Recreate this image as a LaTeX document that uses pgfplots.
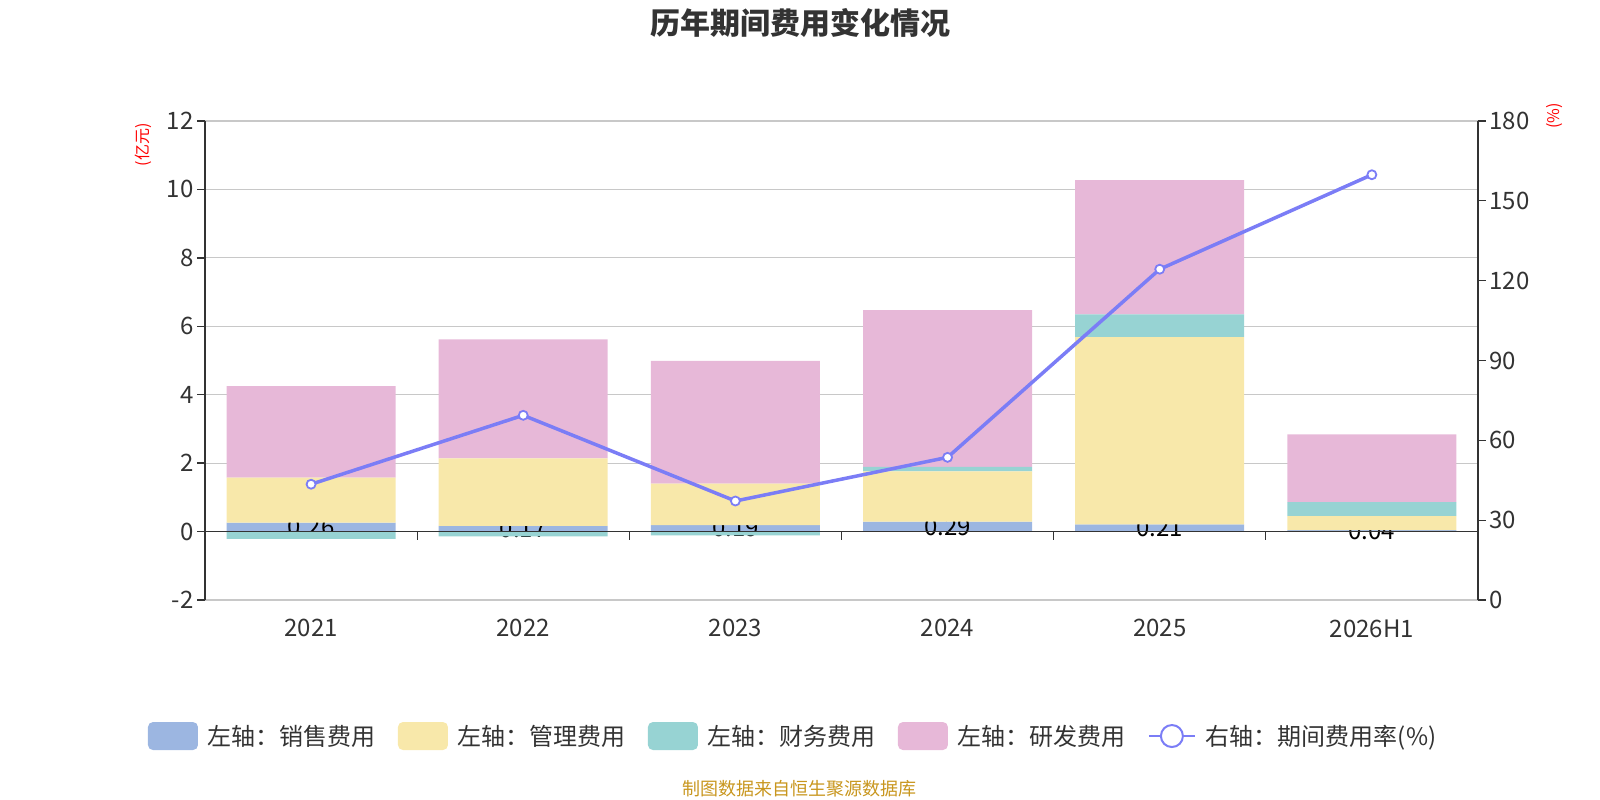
\documentclass[border=0pt]{standalone}
\usepackage{fontspec}
\setmainfont{Noto Sans CJK SC}
\usepackage{pgfplots}
\usepackage{pgfplotstable}
\pgfplotsset{compat=1.18}
\definecolor{csales}{HTML}{9CB6E1}
\definecolor{cmgmt}{HTML}{F8E8AA}
\definecolor{cfin}{HTML}{97D3D3}
\definecolor{crd}{HTML}{E7B8D8}
\definecolor{cline}{HTML}{7B7DF6}
\definecolor{cgrid}{HTML}{C8C8C8}
\definecolor{caxis}{HTML}{333333}
\definecolor{csrc}{HTML}{C8961E}

\pgfplotstableread{
x sales mgmt finpos finneg rd rate labpos
0 0.26 1.32 0    -0.21 2.67 43.5  0.13
1 0.17 1.97 0    -0.14 3.48 69.4  0.085
2 0.19 1.21 0    -0.11 3.59 37.2  0.095
3 0.29 1.47 0.13  0    4.58 53.6  0.145
4 0.21 5.47 0.67  0    3.92 124.3 0.105
5 0.04 0.41 0.41  0    1.98 159.8 0.02
}\data

\pgfplotsset{
  /pgf/number format/assume math mode=true,
  base/.style={scale only axis, width=1273bp, height=479bp, at={(205bp,200bp)}, anchor=south west,
    xmin=-0.5, xmax=5.5, ymin=-2, ymax=12},
  overlay/.style={base, hide axis, ybar, bar width=169bp},
  swatch/.style={legend image code/.code={\fill[##1, rounded corners=5bp] (0bp,-14bp) rectangle (50bp,14bp);}},
  linelegend/.style={legend image code/.code={\draw[cline, line width=2bp] (0bp,0bp) -- (46bp,0bp); \draw[cline, line width=2bp, fill=white] (23bp,0bp) circle (11bp);}},
}

\begin{document}
\begin{tikzpicture}
\useasboundingbox (0,0) rectangle (1600bp,800bp);

% Axis A: frame, grid, sales, legend
\begin{axis}[base, ybar, bar width=169bp,
  axis y line*=left, axis x line*=bottom,
  x axis line style={draw=none},
  y axis line style={draw=caxis, line width=1.3bp},
  ytick={-2,0,2,4,6,8,10,12},
  xtick={0,1,2,3,4,5},
  xticklabels={2021,2022,2023,2024,2025,2026H1},
  xtick style={draw=none},
  ytick style={draw=caxis, line width=1.3bp},
  tick align=outside, major tick length=8bp,
  ymajorgrids, grid style={draw=cgrid, line width=1.2bp},
  ticklabel style={font=\fontsize{24bp}{28bp}\selectfont, text=caxis},
  xticklabel style={yshift=-8bp},
  legend style={draw=none, fill=none, at={(0.462,-0.284)}, anchor=center,
    font=\fontsize{24bp}{28bp}\selectfont, text=caxis,
    /tikz/every odd column/.append style={column sep=8bp},
    /tikz/every even column/.append style={column sep=20bp}},
  legend columns=5, legend cell align=left,
]
\addplot[fill=csales, draw=none, bar shift=0pt, forget plot] table[x=x, y=sales]{\data};
\addlegendimage{swatch, fill=csales, draw=none}
\addlegendimage{swatch, fill=cmgmt, draw=none}
\addlegendimage{swatch, fill=cfin, draw=none}
\addlegendimage{swatch, fill=crd, draw=none}
\addlegendimage{linelegend}
\legend{左轴：销售费用, 左轴：管理费用, 左轴：财务费用, 左轴：研发费用, 右轴：期间费用率(\%)}
\end{axis}

% Axis L: value labels of sales
\begin{axis}[overlay]
\addplot[draw=none, fill=none, bar shift=0pt,
  point meta=explicit,
  nodes near coords={\pgfmathprintnumber[fixed, fixed zerofill, precision=2]{\pgfplotspointmeta}},
  every node near coord/.append style={anchor=center, text=black, font=\fontsize{24bp}{28bp}\selectfont}]
  table[x=x, y=labpos, meta=sales]{\data};
\end{axis}

% Axis B: stacked upper segments
\begin{axis}[base, hide axis, ybar stacked, bar width=169bp]
\addplot[draw=none, fill=none] table[x=x, y=sales]{\data};
\addplot[fill=cmgmt, draw=none] table[x=x, y=mgmt]{\data};
\addplot[fill=cfin, draw=none] table[x=x, y=finpos]{\data};
\addplot[fill=crd, draw=none] table[x=x, y=rd]{\data};
\end{axis}

% Axis N: negative finance and zero line
\begin{axis}[overlay]
\addplot[fill=cfin, draw=none, bar shift=0pt] table[x=x, y=finneg]{\data};
\draw[caxis, line width=1.3bp] (axis cs:-0.5,0) -- (axis cs:5.5,0);
\pgfplotsinvokeforeach{0.5,1.5,2.5,3.5,4.5}{
  \draw[caxis, line width=1.3bp] (axis cs:#1,0) -- ++(0bp,-8bp);
}
\end{axis}

% Axis R: right axis with rate line
\begin{axis}[base, ymin=0, ymax=180,
  axis y line*=right, axis x line=none,
  y axis line style={draw=caxis, line width=1.3bp},
  ytick={0,30,60,90,120,150,180},
  ytick style={draw=caxis, line width=1.3bp},
  tick align=outside, major tick length=8bp,
  ticklabel style={font=\fontsize{24bp}{28bp}\selectfont, text=caxis},
]
\addplot[cline, line width=3.5bp, mark=*, mark size=4.5bp,
  mark options={fill=white, draw=cline, line width=1.8bp}] table[x=x, y=rate]{\data};
\end{axis}

% titles and notes
\node[font=\fontsize{30bp}{33bp}\selectfont\bfseries, text=caxis] at (800bp,777bp) {历年期间费用变化情况};
\node[rotate=90, text=red, font=\fontsize{16bp}{17bp}\selectfont] at (143bp,655bp) {(亿元)};
\node[rotate=90, text=red, font=\fontsize{16bp}{17bp}\selectfont] at (1555bp,684bp) {(\%)};
\node[text=csrc, font=\fontsize{18bp}{20bp}\selectfont] at (799bp,11bp) {制图数据来自恒生聚源数据库};
\end{tikzpicture}
\end{document}
